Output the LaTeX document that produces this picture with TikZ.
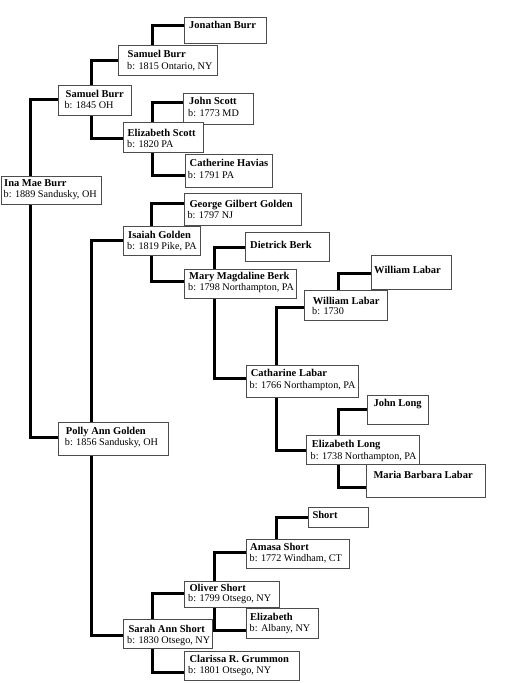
\documentclass[tikz,border=0pt]{standalone}
\usepackage{fontspec}
\setmainfont{Liberation Serif}
\pgfdeclarelayer{background}
\pgfsetlayers{background,main}
\newcommand{\pbx}[5]{\node[pbox,minimum width=#4pt,minimum height=#5pt] (#1) at (#2,#3) {};}
\newcommand{\lnk}[5]{\draw[conn] ([shift={(#4,0)}]#1.#2 west) |- ([shift={(0,#5)}]#3.west);}
\begin{document}
\begin{tikzpicture}[x=1pt,y=-1pt,
  pbox/.style={draw=black!70, line width=1pt, fill=white, inner sep=0pt, outer sep=0pt, anchor=north west},
  nm/.style={font=\fontsize{10.5}{12}\selectfont\bfseries, inner sep=0pt, anchor=base west},
  bt/.style={font=\fontsize{10.2}{12}\selectfont, inner sep=0pt, anchor=base west},
  conn/.style={line width=3pt, black, line cap=butt, line join=miter}]
\useasboundingbox (0,0) rectangle (510,683);

% boxes
\pbx{ina}{1}{176}{100}{28}
\pbx{sbA}{58}{85}{73}{30}
\pbx{sbB}{118}{45.5}{99}{30}
\pbx{jb}{184}{17}{82}{26}
\pbx{js}{183}{93}{70}{31}
\pbx{es}{123}{122}{80}{30}
\pbx{ch}{185}{154}{87}{33}
\pbx{ggg}{184}{193}{117}{32}
\pbx{ig}{123}{226}{77}{29}
\pbx{db}{245}{232}{84}{29}
\pbx{mmb}{184}{269}{112}{29}
\pbx{wl1}{304}{290}{83}{30}
\pbx{wl2}{371}{255}{80}{34}
\pbx{cl}{246}{365}{112}{32}
\pbx{jl}{367}{395}{61}{29}
\pbx{el}{306}{435}{113}{29}
\pbx{mbl}{366}{464}{119}{33}
\pbx{pag}{58}{422}{110}{33}
\pbx{sh}{308}{507}{60}{20}
\pbx{as}{246}{539}{103}{29}
\pbx{os}{184}{581}{95}{26}
\pbx{eli}{246}{608}{72}{30}
\pbx{sas}{123}{619}{89}{29}
\pbx{crg}{184}{651}{115}{29}

% texts
\node[nm] (ina-n) at (4,186.7) {Ina Mae Burr};
\node[bt] (ina-b) at (3.5,197) {b: 1889 Sandusky, OH};
\node[nm] (sbA-n) at (65.5,97.5) {Samuel Burr};
\node[bt] (sbA-b) at (64.3,108.5) {b: 1845 OH};
\node[nm] (sbB-n) at (127.5,57.3) {Samuel Burr};
\node[bt] (sbB-b) at (127,69) {b: 1815 Ontario, NY};
\node[nm] (jb-n) at (189,28.7) {Jonathan Burr};
\node[nm] (js-n) at (189,104.3) {John Scott};
\node[bt] (js-b) at (188,116) {b: 1773 MD};
\node[nm] (es-n) at (127.5,136.7) {Elizabeth Scott};
\node[bt] (es-b) at (127,147.7) {b: 1820 PA};
\node[nm] (ch-n) at (189.5,166.7) {Catherine Havias};
\node[bt] (ch-b) at (187.7,178.3) {b: 1791 PA};
\node[nm] (ggg-n) at (189.3,207.3) {George Gilbert Golden};
\node[bt] (ggg-b) at (187.3,218.3) {b: 1797 NJ};
\node[nm] (ig-n) at (128,238) {Isaiah Golden};
\node[bt] (ig-b) at (127,249.3) {b: 1819 Pike, PA};
\node[nm] (db-n) at (250,248.7) {Dietrick Berk};
\node[nm] (mmb-n) at (189,279.3) {Mary Magdaline Berk};
\node[bt] (mmb-b) at (188,290.7) {b: 1798 Northampton, PA};
\node[nm] (wl2-n) at (374,273) {William Labar};
\node[nm] (wl1-n) at (312.7,304) {William Labar};
\node[bt] (wl1-b) at (312,314) {b: 1730};
\node[nm] (cl-n) at (250.7,376.7) {Catharine Labar};
\node[bt] (cl-b) at (249.5,388) {b: 1766 Northampton, PA};
\node[nm] (jl-n) at (373.3,406) {John Long};
\node[nm] (el-n) at (311.7,447.3) {Elizabeth Long};
\node[bt] (el-b) at (310.5,459) {b: 1738 Northampton, PA};
\node[nm] (mbl-n) at (373.3,478) {Maria Barbara Labar};
\node[nm] (pag-n) at (65.7,434) {Polly Ann Golden};
\node[bt] (pag-b) at (64.7,445.3) {b: 1856 Sandusky, OH};
\node[nm] (sh-n) at (312.3,518.7) {Short};
\node[nm] (as-n) at (250,550) {Amasa Short};
\node[bt] (as-b) at (249.5,561.3) {b: 1772 Windham, CT};
\node[nm] (os-n) at (189.3,591) {Oliver Short};
\node[bt] (os-b) at (188,601.7) {b: 1799 Otsego, NY};
\node[nm] (eli-n) at (250,620.7) {Elizabeth};
\node[bt] (eli-b) at (249.5,631.7) {b: Albany, NY};
\node[nm] (sas-n) at (128.3,632.3) {Sarah Ann Short};
\node[bt] (sas-b) at (127,643.3) {b: 1830 Otsego, NY};
\node[nm] (crg-n) at (189.3,662.3) {Clarissa R. Grummon};
\node[bt] (crg-b) at (188,673.3) {b: 1801 Otsego, NY};

% connectors
\begin{pgfonlayer}{background}
\lnk{ina}{north}{sbA}{29}{-1}
\lnk{ina}{south}{pag}{29}{-1.5}
\lnk{sbA}{north}{sbB}{33}{-0.5}
\lnk{sbA}{south}{es}{33}{1}
\lnk{sbB}{north}{jb}{34}{-5}
\lnk{es}{north}{js}{29}{-6.5}
\lnk{es}{south}{ch}{29}{4.5}
\lnk{pag}{north}{ig}{33}{-0.5}
\lnk{pag}{south}{sas}{33}{1.5}
\lnk{ig}{north}{ggg}{28}{-6}
\lnk{ig}{south}{mmb}{28}{-2.5}
\lnk{mmb}{north}{db}{30}{0.5}
\lnk{mmb}{south}{cl}{30}{-3}
\lnk{cl}{north}{wl1}{30}{2}
\lnk{cl}{south}{el}{30}{0.5}
\lnk{wl1}{north}{wl2}{34}{1}
\lnk{el}{north}{jl}{32}{-0.5}
\lnk{el}{south}{mbl}{32}{6.5}
\lnk{sas}{north}{os}{29}{-1}
\lnk{sas}{south}{crg}{29}{6.5}
\lnk{os}{north}{as}{30}{-1.5}
\lnk{os}{south}{eli}{30}{7}
\lnk{as}{north}{sh}{30}{0}
\end{pgfonlayer}
\end{tikzpicture}
\end{document}
